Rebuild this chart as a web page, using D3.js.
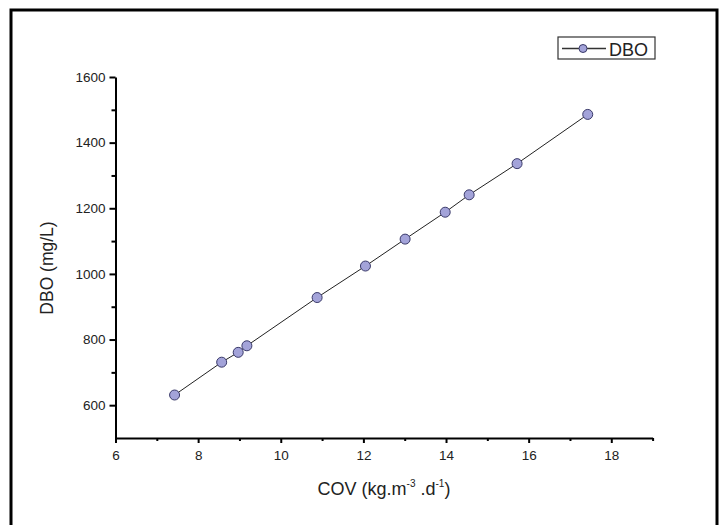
<!DOCTYPE html>
<html>
<head>
<meta charset="utf-8">
<script src="https://cdn.jsdelivr.net/npm/d3@7"></script>
<style>
  body { margin: 0; background: #fff; }
  text { font-family: "Liberation Sans", Arial, sans-serif; fill: #222; }
</style>
</head>
<body>
<div id="chart"></div>
<script>
// data
var cov = [7.43, 8.57, 8.97, 9.18, 10.88, 12.05, 13.01, 13.98, 14.56, 15.72, 17.43];
var dbo = [631, 731, 761, 781, 928, 1024, 1106, 1188, 1241, 1336, 1486];
var xTicks = [6, 8, 10, 12, 14, 16, 18];
var xMinor = [7, 9, 11, 13, 15, 17, 19];
var yTicks = [600, 800, 1000, 1200, 1400, 1600];
var yMinor = [700, 900, 1100, 1300, 1500];
var seriesName = "DBO";

var width = 726,
    height = 525;

var svg = d3.select("#chart").append("svg")
    .attr("width", width)
    .attr("height", height);

// outer frame
svg.append("rect")
    .attr("x", 11).attr("y", 10)
    .attr("width", 706).attr("height", 530)
    .attr("fill", "none")
    .attr("stroke", "#000")
    .attr("stroke-width", 3);

var x = d3.scaleLinear().domain([6, 19]).range([115.5, 652.6]);
var y = d3.scaleLinear().domain([500, 1600]).range([438, 77]);

var points = cov.map(function(d, i) { return { x: d, y: dbo[i] }; });

// axes
function styleAxis(g) {
    g.select(".domain").attr("stroke", "#000").attr("stroke-width", 2);
    g.selectAll(".tick line").attr("stroke", "#000").attr("stroke-width", 2);
    g.selectAll(".tick text").style("font-size", "13.5px").style("fill", "#222");
}

svg.append("g")
    .attr("transform", "translate(0," + y(500) + ")")
    .call(d3.axisBottom(x).tickValues(xTicks).tickSize(5).tickSizeOuter(0).tickPadding(7).tickFormat(d3.format("d")))
    .call(styleAxis);

svg.append("g")
    .attr("transform", "translate(0," + y(500) + ")")
    .call(d3.axisBottom(x).tickValues(xMinor).tickSize(3).tickSizeOuter(0).tickFormat(""))
    .call(styleAxis)
    .select(".domain").remove();

svg.append("g")
    .attr("transform", "translate(" + x(6) + ",0)")
    .call(d3.axisLeft(y).tickValues(yTicks).tickSize(6).tickSizeOuter(0).tickPadding(4).tickFormat(d3.format("d")))
    .call(styleAxis);

svg.append("g")
    .attr("transform", "translate(" + x(6) + ",0)")
    .call(d3.axisLeft(y).tickValues(yMinor).tickSize(4).tickSizeOuter(0).tickFormat(""))
    .call(styleAxis)
    .select(".domain").remove();

// axis titles
svg.append("text")
    .attr("transform", "translate(53,268) rotate(-90)")
    .attr("text-anchor", "middle")
    .style("font-size", "17.5px")
    .text("DBO (mg/L)");

var xt = svg.append("text")
    .attr("x", 384).attr("y", 495)
    .attr("text-anchor", "middle")
    .style("font-size", "18px");
xt.append("tspan").text("COV (kg.m");
xt.append("tspan").attr("dy", -8).style("font-size", "10px").text("-3");
xt.append("tspan").attr("dy", 8).text(" .d");
xt.append("tspan").attr("dy", -8).style("font-size", "10px").text("-1");
xt.append("tspan").attr("dy", 8).text(")");

// line + markers
var line = d3.line()
    .x(function(d) { return x(d.x); })
    .y(function(d) { return y(d.y); });

svg.append("path")
    .datum(points)
    .attr("d", line)
    .attr("fill", "none")
    .attr("stroke", "#222")
    .attr("stroke-width", 1);

svg.selectAll("circle.pt")
    .data(points)
    .enter().append("circle")
    .attr("class", "pt")
    .attr("cx", function(d) { return x(d.x); })
    .attr("cy", function(d) { return y(d.y); })
    .attr("r", 5)
    .attr("fill", "#a3a3d9")
    .attr("stroke", "#3a3a6a")
    .attr("stroke-width", 1);

// legend
var lg = svg.append("g");
lg.append("rect")
    .attr("x", 558).attr("y", 37)
    .attr("width", 97).attr("height", 22)
    .attr("fill", "#fff")
    .attr("stroke", "#333")
    .attr("stroke-width", 1.2);
lg.append("line")
    .attr("x1", 562).attr("x2", 606)
    .attr("y1", 48.5).attr("y2", 48.5)
    .attr("stroke", "#333").attr("stroke-width", 1.5);
lg.append("circle")
    .attr("cx", 583).attr("cy", 48.5).attr("r", 4)
    .attr("fill", "#a3a3d9").attr("stroke", "#3a3a6a");
lg.append("text")
    .attr("x", 609).attr("y", 55.5)
    .attr("font-size", "18px")
    .text(seriesName);
</script>
</body>
</html>
